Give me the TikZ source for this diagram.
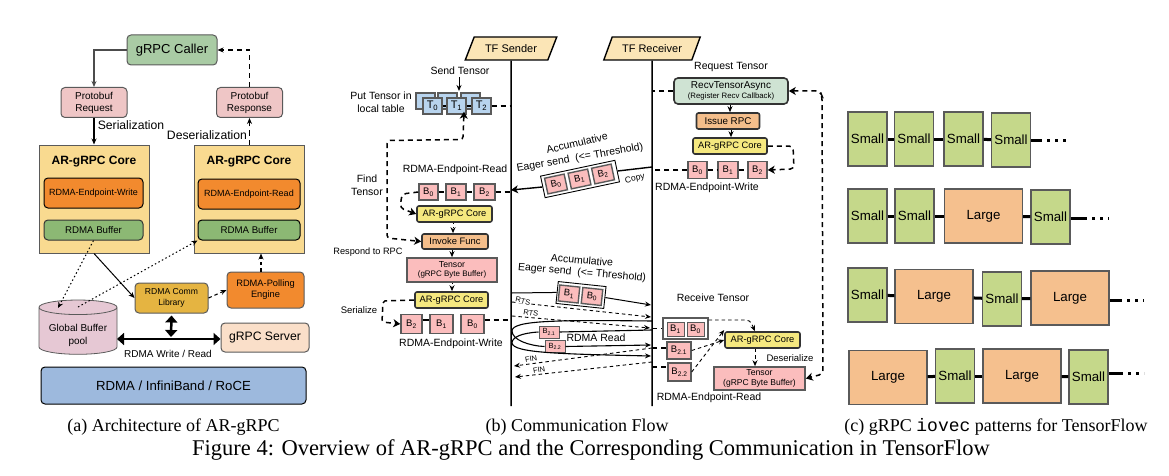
\documentclass[tikz,border=0pt]{standalone}
\usepackage{fontspec}
\usepackage{xcolor}
\usetikzlibrary{shapes.geometric,arrows.meta}
\setmainfont{Liberation Sans}
\newfontfamily\capfont{Liberation Serif}
\newfontfamily\codefont{Liberation Mono}
\newcommand{\fsz}[1]{\fontsize{#1}{\dimexpr#1pt*12/10\relax}\selectfont}

\definecolor{callergreen}{HTML}{A9CBA4}
\definecolor{protopink}{HTML}{EFC6C6}
\definecolor{coreyellow}{HTML}{F9DA90}
\definecolor{endorange}{HTML}{F28A2E}
\definecolor{bufgreen}{HTML}{8CB874}
\definecolor{commgold}{HTML}{E5B441}
\definecolor{poolpink}{HTML}{E6C8D4}
\definecolor{serverpeach}{HTML}{FADFC9}
\definecolor{fabricblue}{HTML}{9DB9DD}
\definecolor{headcream}{HTML}{FBE5B6}
\definecolor{tblue}{HTML}{B8D4EE}
\definecolor{bpink}{HTML}{FBBDBD}
\definecolor{corelemon}{HTML}{F5E87F}
\definecolor{funcpeach}{HTML}{F4BE8B}
\definecolor{recvgreen}{HTML}{CFE3D3}
\definecolor{smallgreen}{HTML}{C5D88A}
\definecolor{largepeach}{HTML}{F5C08E}
\definecolor{edgegray}{HTML}{5A5A5A}

\tikzset{
  wh/.style 2 args={minimum width=#1pt,minimum height=#2pt},
  box/.style={draw=edgegray,line width=1pt,inner sep=0pt,align=center},
  rbox/.style={box,rounded corners=4pt},
  flowbox/.style={draw=black!80,line width=1.6pt,inner sep=0pt,align=center,rounded corners=2pt},
  bbox/.style={draw=edgegray,line width=1.4pt,fill=bpink,inner sep=0pt,font=\fsz{9.5}},
  lab/.style={inner sep=0pt,align=center,font=\fsz{10.5}},
  head/.style={trapezium,trapezium left angle=52,trapezium right angle=128,trapezium stretches=true,
    draw=black,line width=1.4pt,fill=headcream,inner sep=0pt,font=\fsz{11}},
  chunk/.style={draw=edgegray,line width=1.2pt,inner sep=0pt,font=\fsz{13.3},wh={39}{54}},
  smallchunk/.style={chunk,fill=smallgreen},
  largechunk/.style={chunk,fill=largepeach,wh={78}{54}},
  tip/.style={-{Stealth[length=6pt,width=5pt]}},
  bigtip/.style={-{Stealth[length=7pt,width=8pt,inset=2pt]}},
  bigdash/.style={line width=1.5pt,dash pattern=on 5pt off 4pt},
  thindash/.style={line width=0.9pt,dash pattern=on 3.5pt off 3pt},
  dotline/.style={line width=1pt,dash pattern=on 1.5pt off 2.5pt},
  link/.style={line width=3pt},
  trail/.style={line width=3pt,dash pattern=on 3pt off 5pt},
  fat/.style={line width=2.5pt,{Triangle[length=7pt,width=12pt]}-{Triangle[length=7pt,width=12pt]}},
}

\begin{document}
\begin{tikzpicture}[x=1pt,y=-1pt]
  \useasboundingbox (0,0) rectangle (1169,476);

  % (a) architecture
  \node[rbox,fill=callergreen,wh={90}{30},font=\fsz{13}] (caller) at (172,50) {gRPC Caller};
  \node[rbox,fill=protopink,wh={66}{30},font=\fsz{10}] (protoreq) at (94,102.5) {Protobuf\\Request};
  \node[rbox,fill=protopink,wh={66}{30},font=\fsz{10}] (protoresp) at (249.5,102.5) {Protobuf\\Response};
  \node[box,fill=coreyellow,wh={110}{108}] (coreL) at (94,199) {};
  \node[box,fill=coreyellow,wh={110}{108}] (coreR) at (249,199) {};
  \node[lab,font=\fsz{12}\bfseries] (coreLt) at (94,162) {AR-gRPC Core};
  \node[lab,font=\fsz{12}\bfseries] (coreRt) at (249,162) {AR-gRPC Core};
  \node[rbox,draw=black,fill=endorange,wh={99}{30},font=\fsz{9}] (epwrite) at (93.5,193) {RDMA-Endpoint-Write};
  \node[rbox,draw=black!80,fill=bufgreen,wh={99}{20},font=\fsz{9.7}] (bufL) at (93.5,230) {RDMA Buffer};
  \node[rbox,draw=black,fill=endorange,wh={102}{30},font=\fsz{9}] (epread) at (249,194) {RDMA-Endpoint-Read};
  \node[rbox,draw=black,fill=bufgreen,wh={102}{20},font=\fsz{9.7}] (bufR) at (249,230) {RDMA Buffer};
  \node[rbox,fill=commgold,wh={73}{30},font=\fsz{8.6}] (comm) at (171.5,298) {RDMA Comm\\Library};
  \node[rbox,fill=endorange,wh={77}{36},font=\fsz{9.3}] (polling) at (265.5,290) {RDMA-Polling\\Engine};
  \node[cylinder,shape border rotate=90,aspect=0.25,draw=edgegray,line width=0.8pt,
    cylinder uses custom fill,cylinder body fill=poolpink,cylinder end fill=poolpink,
    inner sep=0pt,align=center,wh={78}{48},font=\fsz{10}] (pool) at (78,331) {\rule{0pt}{17pt}Global Buffer\\[1pt]pool};
  \node[rbox,fill=serverpeach,wh={88}{29},font=\fsz{12.2}] (server) at (265,337.5) {gRPC Server};
  \node[rbox,draw=black,fill=fabricblue,wh={265}{37},font=\fsz{13.2}] (fabric) at (173.5,385.5) {RDMA / InfiniBand / RoCE};

  \node[lab,font=\fsz{12.2}] (serlab) at (131,125) {Serialization};
  \node[lab,font=\fsz{12.2}] (deserlab) at (207,135) {Deserialization};
  \node[lab,font=\fsz{10}] (rwlab) at (168,354) {RDMA Write / Read};

  \coordinate (poolhit) at (58,308);
  \coordinate (pooltop) at (78,307);
  \coordinate (poolside) at (117,339);
  \draw[line width=1.5pt,draw=black!70,tip] (caller.west) -| (protoreq.north);
  \draw[line width=1.2pt,bigdash,tip] (protoresp.north) |- (caller.east);
  \draw[line width=2pt,tip] (protoreq.south) -- (coreL.north);
  \draw[bigdash,line width=1.2pt,tip] (protoresp.south |- coreR.north) -- (protoresp.south);
  \draw[line width=1pt,tip] (coreL.south) -- (comm.west);
  \draw[dotline,tip] (bufL.south) -- (poolhit);
  \draw[dotline,tip] (pooltop) -- (bufR.south west);
  \draw[thindash,line width=1.1pt,tip] (comm.east) -- (polling.west);
  \draw[thindash,line width=1.1pt,tip] (polling.north -| 261,0) -- (coreR.south -| 261,0);
  \draw[fat] (comm.south) ++(0,2) -- (171,337);
  \draw[fat] (poolside) -- (server.west |- poolside);

  % (b) communication flow
  \node[head,minimum width=92pt,minimum height=23pt] (sender) at (511,48.5) {TF Sender};
  \node[head,minimum width=97pt,minimum height=23pt] (receiver) at (652,48.5) {TF Receiver};
  \coordinate (senderend) at (511,406);
  \coordinate (receiverend) at (652,406);
  \draw[line width=1.5pt] (sender.south) -- (senderend);
  \draw[line width=1.5pt] (receiver.south) -- (receiverend);

  % sender side
  \node[lab] (sendlab) at (460,71) {Send Tensor};
  \node[lab] (putlab) at (381,102) {Put Tensor in\\local table};
  \node[box,line width=1.4pt,fill=tblue,wh={19}{16}] (T0b) at (425.5,101) {};
  \node[box,line width=1.4pt,fill=tblue,wh={19}{16}] (T1b) at (447.5,101) {};
  \node[box,line width=1.4pt,fill=tblue,wh={19}{16}] (T2b) at (470.5,101) {};
  \node[box,line width=1.4pt,fill=tblue,wh={19}{16},font=\fsz{11}] (T0) at (432.5,106) {T\textsubscript{0}};
  \node[box,line width=1.4pt,fill=tblue,wh={19}{16},font=\fsz{11}] (T1) at (456.5,106) {T\textsubscript{1}};
  \node[box,line width=1.4pt,fill=tblue,wh={19}{16},font=\fsz{11}] (T2) at (481.5,106) {T\textsubscript{2}};
  \node[lab] (findlab) at (367,185) {Find\\Tensor};
  \node[lab] (rdreadlab) at (455,170) {RDMA-Endpoint-Read};
  \node[bbox,wh={19}{16}] (sB0) at (428.5,192) {B\textsubscript{0}};
  \node[bbox,wh={20}{16}] (sB1) at (456,192) {B\textsubscript{1}};
  \node[bbox,wh={21}{16}] (sB2) at (484.5,192) {B\textsubscript{2}};
  \node[flowbox,fill=corelemon,wh={75}{16},font=\fsz{9.3}] (score) at (454.5,214) {AR-gRPC Core};
  \node[flowbox,fill=funcpeach,wh={66}{15},font=\fsz{9.4}] (invoke) at (455,241.5) {Invoke Func};
  \node[lab,font=\fsz{9.2}] (resplab) at (368,252) {Respond to RPC};
  \node[box,line width=1.6pt,fill=bpink,wh={90}{24},font=\fsz{8}] (stensor) at (452,270) {{\fsz{8.7}Tensor}\\(gRPC Byte Buffer)};
  \node[flowbox,fill=corelemon,wh={73}{16},font=\fsz{9.3}] (score2) at (451.5,300) {AR-gRPC Core};
  \node[lab,font=\fsz{9.5}] (serilab) at (359,310) {Serialize};
  \node[bbox,wh={21}{19}] (tB2) at (411.5,324) {B\textsubscript{2}};
  \node[bbox,wh={23}{19}] (tB1) at (441.5,324) {B\textsubscript{1}};
  \node[bbox,wh={23}{19}] (tB0) at (472.5,324) {B\textsubscript{0}};
  \node[lab] (wrlab) at (451,344) {RDMA-Endpoint-Write};

  \draw[line width=1pt,tip] (sendlab.south) ++(-1,2) -- (459,91);
  \draw[line width=1.4pt] (T0.east) -- (T1.west);
  \draw[line width=1.4pt] (T1.east) -- (T2.west);
  \draw[bigdash] (T2.east) -- (T2.east -| sender);
  \draw[bigdash,rounded corners=3pt,{Stealth[length=7pt,width=8pt,inset=2pt]}-{Stealth[length=7pt,width=8pt,inset=2pt]}]
    ([xshift=7.5pt,yshift=3pt]T1.south) -- (463,139.5) -- (387,140.5) -- (387,238) -- (invoke.west);
  \draw[bigdash] (sB0.east) -- (sB1.west);
  \draw[bigdash] (sB1.east) -- (sB2.west);
  \draw[bigdash] (sB2.east) -- (sB2.east -| sender);
  \draw[bigdash,rounded corners=4pt,bigtip] (sB0.west) -- (402,194) -- (400,208) -- (score.west);
  \draw[dotline,tip] (score.south -| 453,0) -- (invoke.north -| 453,0);
  \draw[line width=1pt,tip] (invoke.south -| 452,0) -- (stensor.north -| 452,0);
  \draw[dotline,tip] (stensor.south) -- (score2.north -| 452,0);
  \draw[bigdash,rounded corners=2pt,bigtip] (score2.west) -- (383,301) -- (382,322) -- (tB2.west);
  \draw[line width=1.4pt] (tB2.north east |- 0,320) -- (tB1.north west |- 0,320);
  \draw[bigdash] (tB0.east |- 0,320) -- (510,320);

  % receiver side
  \node[lab] (reqlab) at (731,67) {Request Tensor};
  \node[flowbox,rounded corners=4pt,fill=recvgreen,wh={114}{26},font=\fsz{10}] (recvasync) at (731,91)
    {RecvTensorAsync\\[-2pt]{\fsz{7.8}(Register Recv Callback)}};
  \node[flowbox,fill=funcpeach,wh={63}{16},font=\fsz{9.8}] (issue) at (728,121) {Issue RPC};
  \node[flowbox,fill=corelemon,wh={74}{16},font=\fsz{9.3}] (rcore) at (730,146) {AR-gRPC Core};
  \node[bbox,wh={19}{17}] (rB0) at (697.5,170) {B\textsubscript{0}};
  \node[bbox,wh={20}{17}] (rB1) at (728,170) {B\textsubscript{1}};
  \node[bbox,wh={19}{17}] (rB2) at (757.5,170) {B\textsubscript{2}};
  \node[lab] (rwrlab) at (707,188) {RDMA-Endpoint-Write};

  \draw[bigdash] (recvasync.west) -- (recvasync.west -| receiver);
  \draw[thindash,tip] (recvasync.south -| 730,0) -- (issue.north -| 730,0);
  \draw[thindash,tip] (issue.south -| 731,0) -- (rcore.north -| 731,0);
  \draw[bigdash,rounded corners=4pt,bigtip] (rcore.east) -- (793,146) -- (794,169) -- (rB2.east);
  \draw[bigdash] (rB0.west) -- (rB0.west -| receiver);
  \draw[bigdash] (rB0.east) -- (rB1.west);
  \draw[bigdash] (rB1.east) -- (rB2.west);

  % eager send, upper
  \node[lab,rotate=13] (acc1) at (577,143) {Accumulative};
  \node[lab,rotate=10] (eager1) at (580,158) {Eager send\ \ (<= Threshold)};
  \node[draw=black,line width=0.9pt,fill=white,rotate=12,inner sep=0pt,wh={76}{22}] (copybox) at (580,179) {};
  \node[bbox,rotate=12,wh={20}{16}] (cB0) at (556,184) {B\textsubscript{0}};
  \node[bbox,rotate=12,wh={20}{16}] (cB1) at (579.5,179) {B\textsubscript{1}};
  \node[bbox,rotate=12,wh={20}{16}] (cB2) at (603,174) {B\textsubscript{2}};
  \node[lab,rotate=12,font=\fsz{8.5}] (copylab) at (635,179) {Copy};
  \draw[line width=1.4pt] (receiver.south |- 0,167) -- (copybox.east);
  \draw[line width=1.4pt,bigtip] (copybox.west) -- (sender.south |- 0,190);

  % eager send, lower
  \node[lab,rotate=-5] (acc2) at (582,260) {Accumulative};
  \node[lab,rotate=-5] (eager2) at (582,273) {Eager send\ \ (<= Threshold)};
  \node[draw=black,line width=0.9pt,fill=white,rotate=-6,inner sep=0pt,wh={48}{22}] (lowbox) at (581,295) {};
  \node[bbox,rotate=-6,wh={20}{16}] (lB1) at (569,294) {B\textsubscript{1}};
  \node[bbox,rotate=-6,wh={20}{16}] (lB0) at (592,296.5) {B\textsubscript{0}};
  \coordinate (lows) at (512,293);
  \coordinate (lowe) at (651,305);
  \draw[line width=1pt] (lows) -- (lowbox.west);
  \draw[line width=1pt,tip] (lowbox.east) -- (lowe);

  % RTS and FIN
  \coordinate (rts1s) at (512,302);
  \coordinate (rts1e) at (651,317);
  \coordinate (rts2s) at (512,316);
  \coordinate (rts2e) at (650,328);
  \coordinate (fin1s) at (652,348);
  \coordinate (fin1e) at (514,366);
  \coordinate (fin2s) at (652,362);
  \coordinate (fin2e) at (515,377);
  \draw[thindash,tip] (rts1s) -- (rts1e);
  \draw[thindash,tip] (rts2s) -- (rts2e);
  \draw[thindash,tip] (fin1s) -- (fin1e);
  \draw[thindash,tip] (fin2s) -- (fin2e);
  \node[lab,rotate=-12,font=\fsz{7.5},fill=white] (rts1) at (523,301) {RTS};
  \node[lab,rotate=-10,font=\fsz{7.5},fill=white] (rts2) at (531,313) {RTS};
  \node[lab,rotate=10,font=\fsz{7.5},fill=white] (fin1) at (531,359) {FIN};
  \node[lab,rotate=10,font=\fsz{7.5},fill=white] (fin2) at (539,370) {FIN};

  % RDMA read loops
  \node[bbox,line width=1pt,wh={20}{12},font=\fsz{7.5}] (B21l) at (549,332) {B\textsubscript{2.1}};
  \node[bbox,line width=1pt,wh={20}{12},font=\fsz{7.5}] (B22l) at (555,346.5) {B\textsubscript{2.2}};
  \coordinate (read1) at (652,321);
  \coordinate (read2) at (652,330);
  \coordinate (read3) at (651,345);
  \coordinate (read4) at (651,356);
  \draw[line width=1.1pt] (read1) .. controls (560,320) and (512,320) .. (512,331)
    .. controls (512,340) and (530,346) .. (B22l.west);
  \draw[line width=1.1pt,tip] (B22l.east) -- (read3);
  \draw[line width=1.1pt] (B21l.east) -- (read2);
  \draw[line width=1.1pt,tip] (B21l.west) .. controls (522,333) and (512,337) .. (512,343)
    .. controls (513,353) and (560,354) .. (read4);
  \node[lab,font=\fsz{10.5}] (readlab) at (596,338) {RDMA Read};

  % receive side, lower
  \node[lab] (recvlab) at (713,298) {Receive Tensor};
  \node[draw=edgegray,line width=1.4pt,fill=white,inner sep=0pt,wh={45}{21}] (rbuf) at (685.5,328.5) {};
  \node[bbox,line width=1pt,wh={17}{14}] (rbB1) at (675.5,329) {B\textsubscript{1}};
  \node[bbox,line width=1pt,wh={17}{14}] (rbB0) at (695.5,329) {B\textsubscript{0}};
  \node[bbox,wh={24}{17}] (rB21) at (679,350.5) {B\textsubscript{2.1}};
  \node[bbox,wh={23}{18}] (rB22) at (679.5,372) {B\textsubscript{2.2}};
  \node[flowbox,fill=corelemon,wh={75}{16},font=\fsz{9.3}] (rcore2) at (762.5,340) {AR-gRPC Core};
  \node[box,line width=1.6pt,fill=bpink,wh={91}{23},font=\fsz{8.5}] (rtensor) at (759.5,378.5) {{\fsz{8.7}Tensor}\\(gRPC Byte Buffer)};
  \node[lab,font=\fsz{9.5}] (deslab) at (790,358) {Deserialize};
  \node[lab] (rdlab) at (709,398) {RDMA-Endpoint-Read};

  \draw[bigdash] (receiver.south |- rbuf.west) -- (rbuf.west);
  \draw[bigdash] (receiver.south |- 0,348) -- (rB21.west |- 0,348);
  \draw[bigdash] (receiver.south |- 0,367) -- (rB22.west |- 0,367);
  \draw[thindash,rounded corners=4pt,tip] (rbuf.north east |- 0,320) -- (750,320) -- (rcore2.north -| 755,0);
  \draw[thindash,tip] (rB21.east) -- (rcore2.west);
  \draw[thindash,tip] (rB22.east) -- ([yshift=10pt]rcore2.west);
  \draw[thindash,tip] (rcore2.south -| 755,0) -- (rtensor.north -| 755,0);
  \draw[bigdash,rounded corners=4pt,{Stealth[length=7pt,width=8pt,inset=2pt]}-{Stealth[length=7pt,width=8pt,inset=2pt]}]
    (recvasync.east) -- (820,91) -- (822,96) -- (823,374) -- (rtensor.east);

  % (c) iovec patterns
  \node[smallchunk] (a1) at (867.5,139) {Small};
  \node[smallchunk] (a2) at (914,139) {Small};
  \node[smallchunk] (a3) at (963.5,139) {Small};
  \node[smallchunk] (a4) at (1011,140) {Small};
  \coordinate (aend) at (1039,140.5);
  \coordinate (adots) at (1066,140.5);
  \node[smallchunk] (b1) at (867.5,216) {Small};
  \node[smallchunk] (b2) at (914.5,216) {Small};
  \node[largechunk] (b3) at (983.5,216) {Large};
  \node[smallchunk] (b4) at (1050.5,217) {Small};
  \coordinate (bend) at (1084,218);
  \coordinate (bdots) at (1109,218);
  \node[smallchunk] (c1) at (867.5,295) {Small};
  \node[largechunk] (c2) at (934,296.5) {Large};
  \node[smallchunk] (c3) at (1002,299) {Small};
  \node[largechunk] (c4) at (1070,298) {Large};
  \coordinate (cend) at (1119,300);
  \coordinate (cdots) at (1144,300);
  \node[largechunk] (d1) at (888,377.5) {Large};
  \node[smallchunk] (d2) at (955,376) {Small};
  \node[largechunk] (d3) at (1022,376) {Large};
  \node[smallchunk] (d4) at (1088.5,377) {Small};
  \coordinate (dend) at (1120,373);
  \coordinate (ddots) at (1144,373);

  \draw[link] (a1) -- (a2);
  \draw[link] (a2) -- (a3);
  \draw[link] (a3) -- (a4);
  \draw[link] (a4.east |- aend) -- (aend);
  \draw[trail] (aend) -- (adots);
  \draw[link] (b1) -- (b2);
  \draw[link] (b2) -- (b3);
  \draw[link] (b3) -- (b4);
  \draw[link] (b4.east |- bend) -- (bend);
  \draw[trail] (bend) -- (bdots);
  \draw[link] (c1) -- (c2);
  \draw[link] (c2) -- (c3);
  \draw[link] (c3) -- (c4);
  \draw[link] (c4.east |- cend) -- (cend);
  \draw[trail] (cend) -- (cdots);
  \draw[link] (d1) -- (d2);
  \draw[link] (d2) -- (d3);
  \draw[link] (d3) -- (d4);
  \draw[link] (d4.east |- dend) -- (dend);
  \draw[trail] (dend) -- (ddots);

  % captions
  \node[lab,font=\capfont\fsz{18}] (capa) at (173.5,427) {(a) Architecture of AR-gRPC};
  \node[lab,font=\capfont\fsz{18}] (capb) at (577,427) {(b) Communication Flow};
  \node[lab,font=\capfont\fsz{18}] (capc) at (996,427) {(c) gRPC {\codefont iovec} patterns for TensorFlow};
  \node[lab,font=\capfont\fsz{22.5}] (capfig) at (591,450) {Figure 4: Overview of AR-gRPC and the Corresponding Communication in TensorFlow};
\end{tikzpicture}
\end{document}
